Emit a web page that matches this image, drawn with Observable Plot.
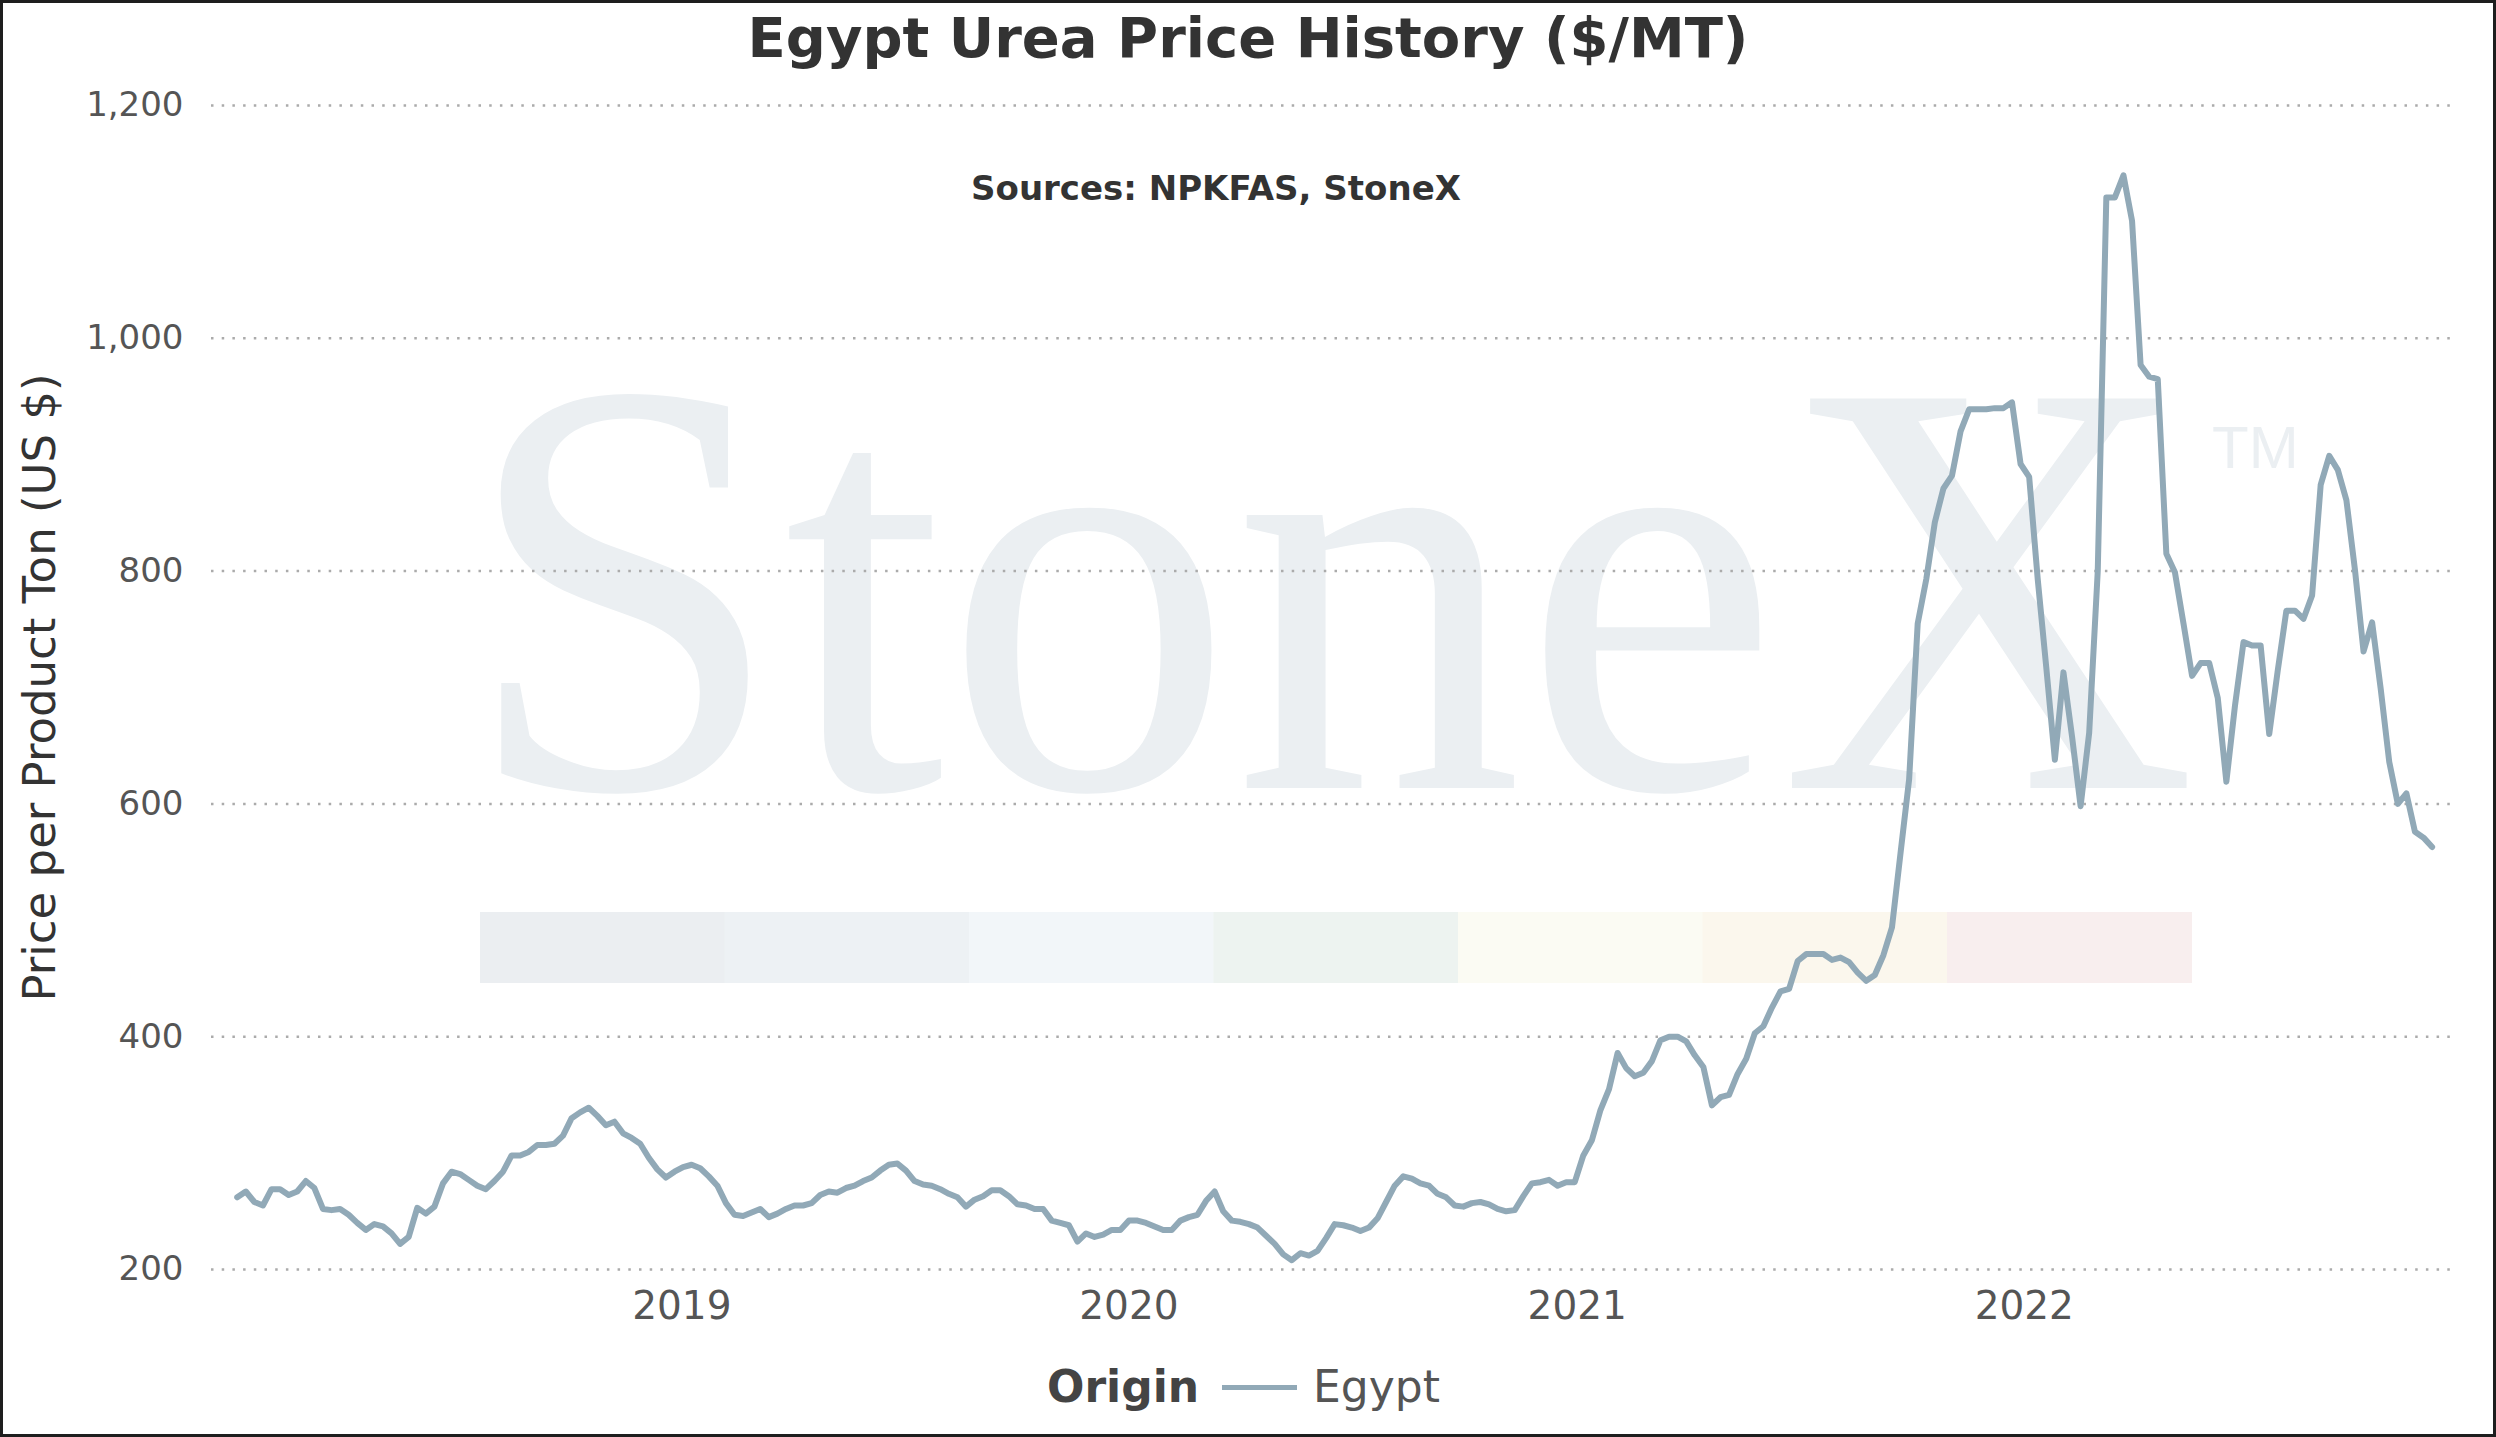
<!DOCTYPE html>
<html>
<head>
<meta charset="utf-8">
<script src="https://cdn.jsdelivr.net/npm/d3@7"></script>
<script src="https://cdn.jsdelivr.net/npm/@observablehq/plot@0.6"></script>
<style>
  html, body { margin: 0; padding: 0; background: #fff; overflow: hidden; }
  #page { position: relative; width: 2496px; height: 1437px; font-family: "DejaVu Sans", Verdana, sans-serif; }
  #frame { position: absolute; left: 0; top: 0; width: 2496px; height: 1437px; box-sizing: border-box; border: 3px solid #1e1e1e; pointer-events: none; z-index: 5; }
  .abs { position: absolute; white-space: nowrap; line-height: 1; }
  #title { left: 0; width: 2496px; text-align: center; top: 9.6px; font-size: 56px; font-weight: bold; color: #333; }
  #subtitle { left: 0; width: 2432px; text-align: center; top: 171px; font-size: 34px; font-weight: bold; color: #333; z-index: 3; }
  #chart { position: absolute; left: 0; top: 80px; }
  #legOrigin { left: 1047px; top: 1365px; font-size: 44px; font-weight: bold; color: #444; }
  #legLine { position: absolute; left: 1222px; top: 1385px; width: 75px; height: 5px; }
  #legEgypt { left: 1313px; top: 1365px; font-size: 44px; color: #555; }
</style>
</head>
<body>
<div id="page">
  <div id="title" class="abs"></div>
  <div id="chart"></div>
  <div id="subtitle" class="abs"></div>
  <div id="legOrigin" class="abs"></div>
  <div id="legLine"></div>
  <div id="legEgypt" class="abs"></div>
  <div id="frame"></div>
</div>
<script>
// ---- texts ----
const titleText = "Egypt Urea Price History ($/MT)";
const subtitleText = "Sources: NPKFAS, StoneX";
const yLabelText = "Price per Product Ton (US $)";
const legendTitle = "Origin";
const seriesName = "Egypt";

// ---- axes ----
const yTicks = [200, 400, 600, 800, 1000, 1200];
const xTickYears = [2019, 2020, 2021, 2022];

// ---- data: weekly Egypt urea price, $/MT, first week below ----
const firstWeek = "2018-01-03";
const prices = [
  262,267,258,255,269,269,264,267,276,270,252,251,252,247,240,234,239,237,231,222,
  228,253,248,254,274,284,282,277,272,269,276,284,298,298,301,307,307,308,315,330,
  335,339,332,324,327,317,313,308,
  296,286,279,284,288,290,287,280,272,257,247,246,249,252,245,248,252,255,255,257,
  264,267,266,270,272,276,279,285,290,291,285,276,273,272,269,265,262,254,260,263,
  268,268,263,256,255,252,
  252,242,240,238,224,231,228,230,234,234,242,242,240,237,234,234,242,245,247,259,
  267,250,242,241,239,236,229,222,213,208,214,212,216,227,239,238,236,233,236,244,
  258,272,280,278,274,272,265,
  262,255,254,257,258,256,252,250,251,263,274,275,277,272,275,275,298,311,337,355,
  386,373,366,369,379,397,400,400,396,384,374,341,348,350,368,381,403,409,425,439,
  441,465,471,471,471,466,
  468,464,455,448,453,470,494,558,621,755,793,842,871,882,920,939,939,939,940,940,
  945,892,881,793,717,638,713,658,598,661,800,
  1121,1121,1140,1101,977,967,965,815,799,755,710,721,721,691,619,684,739,736,736,660,
  715,766,766,759,779,874,899,887,861,801,731,756,699,636,600,609,576,571,563
];

// ---- watermark decoration ----
const watermarkWord = "StoneX";
const watermarkMark = "TM";
const watermarkBandColors = ["#ebeef1", "#edf1f4", "#f2f6f9", "#edf3f0", "#fbfbf3", "#fbf7ed", "#f8eeee"];

// ---- styles ----
const lineColor = "#91a9b7";
const gridColor = "#ababab";
const watermarkColor = "#ebeff2";

const start = new Date(firstWeek + "T00:00:00Z");
const series = prices.map((p, i) => ({ date: d3.utcDay.offset(start, 7 * i), price: p, origin: seriesName }));
const xTicks = xTickYears.map(y => new Date(Date.UTC(y, 0, 1)));

document.getElementById("title").textContent = titleText;
document.getElementById("subtitle").textContent = subtitleText;
document.getElementById("legOrigin").textContent = legendTitle;
document.getElementById("legEgypt").textContent = seriesName;
document.getElementById("legLine").style.background = lineColor;

const W = 2496, H = 1270;
const chart = Plot.plot({
  width: W,
  height: H,
  marginLeft: 211,
  marginRight: 46,
  marginTop: 25,
  marginBottom: 81,
  style: { fontFamily: "DejaVu Sans", color: "#555", background: "transparent", overflow: "visible" },
  x: { type: "utc", domain: [new Date("2017-12-13T00:00:00Z"), new Date("2022-12-15T00:00:00Z")], label: null },
  y: { domain: [200, 1200], label: null },
  marks: [
    Plot.gridY(yTicks, { stroke: gridColor, strokeOpacity: 1, strokeWidth: 2.5, strokeDasharray: "2.5,8.2" }),
    Plot.axisY(yTicks, { tickSize: 0, tickPadding: 28, fontSize: 34, fill: "#555", tickFormat: d3.format(","), label: null }),
    Plot.axisX(xTicks, { tickSize: 0, tickPadding: 22, fontSize: 39, fill: "#555", tickFormat: d3.utcFormat("%Y"), label: null }),
    Plot.text([yLabelText], { text: d => d, frameAnchor: "left", textAnchor: "middle", dx: -171, rotate: -90, fontSize: 45, fill: "#333" }),
    Plot.line(series, { x: "date", y: "price", stroke: lineColor, strokeWidth: 6, strokeLinejoin: "round", strokeLinecap: "round" })
  ]
});
document.getElementById("chart").appendChild(chart);

// watermark behind everything
const svg = d3.select(chart);
const wm = svg.insert("g", ":first-child").attr("class", "watermark").attr("text-anchor", "start");
const bandX0 = 480, bandW = 244.5, bandY = 832, bandH = 71;
watermarkBandColors.forEach((c, i) => {
  wm.append("rect").attr("x", bandX0 + i * bandW).attr("y", bandY).attr("width", bandW + 0.5).attr("height", bandH).attr("fill", c);
});
wm.append("text")
  .attr("x", 462).attr("y", 708)
  .attr("text-anchor", "start")
  .attr("font-family", "Liberation Serif, DejaVu Serif, serif")
  .attr("font-size", 595)
  .attr("textLength", 1735)
  .attr("lengthAdjust", "spacingAndGlyphs")
  .attr("fill", watermarkColor)
  .text(watermarkWord);
wm.append("text")
  .attr("x", 2212).attr("y", 388)
  .attr("text-anchor", "start")
  .attr("font-family", "Liberation Sans, Arial, sans-serif")
  .attr("font-size", 60)
  .attr("fill", watermarkColor)
  .text(watermarkMark);
</script>
</body>
</html>
